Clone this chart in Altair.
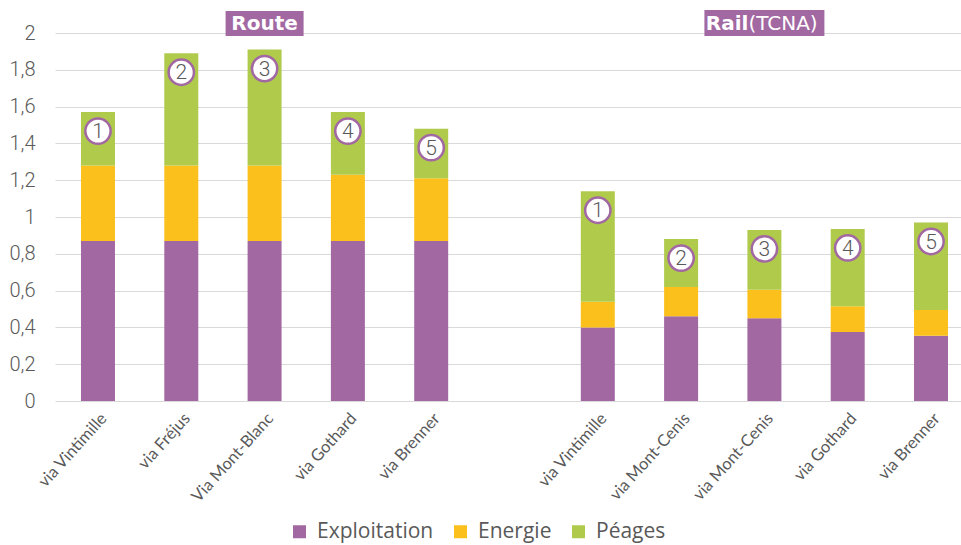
import json

import altair as alt
import pandas as pd

# ---- data -------------------------------------------------------------
route_labels = ["via Vintimille", "via Fréjus", "Via Mont-Blanc", "via Gothard", "via Brenner"]
rail_labels = ["via Vintimille", "via Mont-Cenis", "via Mont-Cenis", "via Gothard", "via Brenner"]

route_exploitation = [0.87, 0.87, 0.87, 0.87, 0.87]
route_energie = [0.41, 0.41, 0.41, 0.36, 0.34]
route_peages = [0.29, 0.61, 0.63, 0.34, 0.27]

rail_exploitation = [0.40, 0.46, 0.45, 0.375, 0.355]
rail_energie = [0.14, 0.16, 0.155, 0.14, 0.14]
rail_peages = [0.60, 0.26, 0.325, 0.42, 0.475]

badge_numbers = ["1", "2", "3", "4", "5"]

series_names = ["Exploitation", "Energie", "Péages"]
series_colors = ["#A268A2", "#FBC01B", "#B0CA4C"]

group_bold = ["Route", "Rail"]
group_light = ["", "(TCNA)"]

y_ticks = [0, 0.2, 0.4, 0.6, 0.8, 1.0, 1.2, 1.4, 1.6, 1.8, 2.0]

# ---- tables -----------------------------------------------------------
route_keys = [f"R{i + 1}" for i in range(len(route_labels))]
rail_keys = [f"F{i + 1}" for i in range(len(rail_labels))]
slot_order = route_keys + ["GAP"] + rail_keys
label_map = dict(zip(route_keys, route_labels))
label_map.update(zip(rail_keys, rail_labels))
label_map["GAP"] = ""

rows = []
for keys, parts in (
    (route_keys, (route_exploitation, route_energie, route_peages)),
    (rail_keys, (rail_exploitation, rail_energie, rail_peages)),
):
    for i, key in enumerate(keys):
        for rank, (name, values) in enumerate(zip(series_names, parts)):
            rows.append({"key": key, "series": name, "value": values[i], "rank": rank})
bars_df = pd.DataFrame(rows)

totals = bars_df.groupby("key", sort=False)["value"].sum()
badges_df = pd.DataFrame(
    {
        "key": route_keys + rail_keys,
        "value": [totals[k] for k in route_keys + rail_keys],
        "num": badge_numbers + badge_numbers,
    }
)

route_head = pd.DataFrame({"key": [route_keys[2]], "bold": [group_bold[0]]})
rail_head = pd.DataFrame({"key": [rail_keys[2]], "bold": [group_bold[1]], "light": [group_light[1]]})

# ---- scales and axes (shared by every layer) ---------------------------
purple = series_colors[0]
grey_text = "#595959"

x_scale = alt.Scale(domain=slot_order, range=[0, 919], paddingInner=0.592, paddingOuter=0.312)
label_expr = "(" + json.dumps(label_map, ensure_ascii=False) + ")[datum.value]"

x_axis = alt.Axis(
    labelExpr=label_expr,
    labelAngle=-48,
    labelAlign="right",
    labelBaseline="top",
    labelPadding=9,
    labelFont="Lato",
    labelFontSize=16.5,
    labelColor=grey_text,
    ticks=False,
    domain=False,
    grid=False,
)
x_enc = alt.X("key:N", scale=x_scale, title=None, axis=x_axis)

y_scale = alt.Scale(domain=[0, 2], nice=False)
y_axis = alt.Axis(
    values=y_ticks,
    labelExpr="replace(format(datum.value, '.1~f'), '.', ',')",
    labelFont="Roboto",
    labelFontWeight=300,
    labelFontSize=20,
    labelColor=grey_text,
    labelPadding=20,
    ticks=False,
    domain=False,
    grid=True,
    gridColor="#D9D9D9",
    gridWidth=1.2,
)
y_stack = alt.Y("value:Q", stack="zero", title=None, scale=y_scale, axis=y_axis)
y_point = alt.Y("value:Q", stack=None, title=None, scale=y_scale, axis=y_axis)

# ---- layers -----------------------------------------------------------
bars = (
    alt.Chart(bars_df)
    .mark_bar()
    .encode(
        x=x_enc,
        y=y_stack,
        color=alt.Color(
            "series:N",
            scale=alt.Scale(domain=series_names, range=series_colors),
            legend=alt.Legend(
                title=None,
                orient="none",
                direction="horizontal",
                legendX=234,
                legendY=488,
                symbolType="square",
                symbolSize=169,
                symbolStrokeWidth=0,
                symbolOpacity=1,
                labelFont="Open Sans",
                labelFontSize=21,
                labelColor=grey_text,
                labelOffset=7,
                columnPadding=16,
                padding=0,
            ),
        ),
        order=alt.Order("rank:Q", sort="ascending"),
    )
)

badge_circles = (
    alt.Chart(badges_df)
    .mark_circle(size=640, color="white", opacity=1, stroke=purple, strokeWidth=2.5, yOffset=19)
    .encode(x=x_enc, y=y_point)
)

badge_text = (
    alt.Chart(badges_df)
    .mark_text(font="Roboto", fontSize=21, fontWeight=300, color=grey_text, baseline="middle", dy=20)
    .encode(x=x_enc, y=y_point, text="num:N")
)

route_box = (
    alt.Chart(route_head)
    .mark_bar(width=78, color=purple)
    .encode(x=x_enc, y=alt.value(-22), y2=alt.value(3))
)
rail_box = (
    alt.Chart(rail_head)
    .mark_bar(width=120, color=purple)
    .encode(x=x_enc, y=alt.value(-23), y2=alt.value(3))
)
route_title = (
    alt.Chart(route_head)
    .mark_text(font="DejaVu Sans", fontWeight="bold", fontSize=20, color="white", align="center", baseline="middle")
    .encode(x=x_enc, y=alt.value(-9.5), text="bold:N")
)
rail_title_bold = (
    alt.Chart(rail_head)
    .mark_text(font="DejaVu Sans", fontWeight="bold", fontSize=20, color="white", align="right", baseline="middle", dx=-16)
    .encode(x=x_enc, y=alt.value(-9.5), text="bold:N")
)
rail_title_light = (
    alt.Chart(rail_head)
    .mark_text(font="DejaVu Sans", fontSize=20, color="white", align="left", baseline="middle", dx=-16)
    .encode(x=x_enc, y=alt.value(-9.5), text="light:N")
)

chart = (
    alt.layer(
        bars,
        badge_circles,
        badge_text,
        route_box,
        rail_box,
        route_title,
        rail_title_bold,
        rail_title_light,
    )
    .properties(
        width=906,
        height=368,
        padding={"left": 55, "top": 33, "right": 0, "bottom": 144},
        autosize=alt.AutoSizeParams(type="none"),
        background="white",
    )
    .configure_view(stroke=None)
)

chart.save("out.html", embed_options={"renderer": "svg", "actions": False})
